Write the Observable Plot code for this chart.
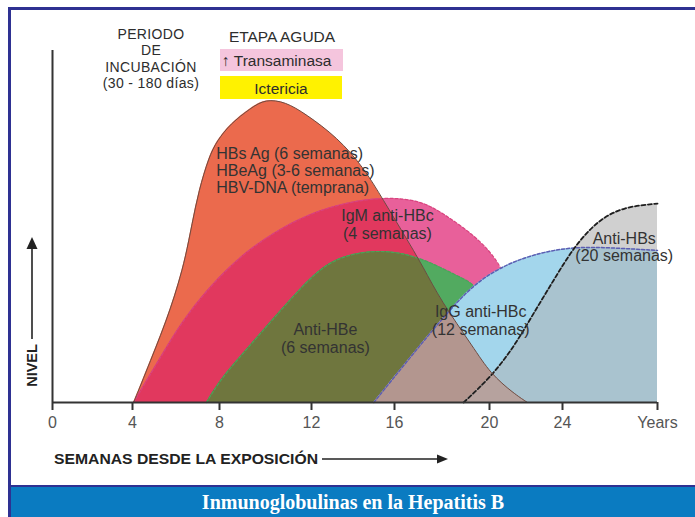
<!DOCTYPE html>
<html>
<head>
<meta charset="utf-8">
<script src="https://cdn.jsdelivr.net/npm/d3@7"></script>
<script src="https://cdn.jsdelivr.net/npm/@observablehq/plot@0.6"></script>
<style>
  body { margin: 0; background: #fff; }
  #wrap { position: relative; width: 695px; height: 517px; overflow: hidden; background: #fff;
          font-family: "Liberation Sans", Arial, sans-serif; }
  #chart { position: absolute; left: 0; top: 0; }
  #deco { position: absolute; left: 0; top: 0; }
  #incub { position: absolute; left: 81px; top: 25.9px; width: 140px; text-align: center;
           font-size: 14px; line-height: 16.5px; letter-spacing: 0.35px; color: #2d2d2d; white-space: nowrap; }
  .bl { position: absolute; background: #2e3192; }
  #footer { position: absolute; left: 11px; top: 485px; width: 684px; height: 30px;
            border-top: 2px solid #2e3192; background: #0a7bc1; color: #fff;
            font-family: "Liberation Serif", "Times New Roman", serif; font-weight: bold;
            font-size: 20px; text-align: center; line-height: 31px; }
</style>
</head>
<body>
<div id="wrap">
  <div id="chart"></div>
  <svg id="deco" width="695" height="485" font-family="Liberation Sans, Arial, sans-serif" fill="#2d2d2d">
    <rect x="220" y="49" width="123" height="22" fill="#f5c5dd"></rect>
    <rect x="220" y="76" width="122" height="23" fill="#fff200"></rect>
    <text x="282" y="41.5" font-size="15.5" text-anchor="middle">ETAPA AGUDA</text>
    <text x="222" y="65.5" font-size="15.5">↑ Transaminasa</text>
    <text x="281" y="93.5" font-size="15.5" text-anchor="middle">Ictericia</text>
    <text transform="translate(37,365.5) rotate(-90)" text-anchor="middle" font-size="14.5" font-weight="bold" fill="#222">NIVEL</text>
    <line x1="32" y1="339" x2="32" y2="246" stroke="#222" stroke-width="1.6"></line>
    <path d="M32,237 L26.5,249 L37.5,249 Z" fill="#222"></path>
    <text x="54" y="463.5" font-size="15" font-weight="bold" fill="#222" textLength="264" lengthAdjust="spacingAndGlyphs">SEMANAS DESDE LA EXPOSICIÓN</text>
    <line x1="322" y1="459" x2="440" y2="459" stroke="#222" stroke-width="1.6"></line>
    <path d="M448,459 L437,454.5 L437,463.5 Z" fill="#222"></path>
  </svg>
  <div id="incub">PERIODO<br>DE<br>INCUBACIÓN<br>(30 - 180 días)</div>
  <div class="bl" style="left:8px;top:7px;width:3px;height:510px"></div>
  <div class="bl" style="left:8px;top:7px;width:687px;height:3px"></div>
  <div id="footer">Inmunoglobulinas en la Hepatitis B</div>
</div>
<script>
// ---- data (week since exposure, relative level 0-100) ----
const weeks = [0, 4, 8, 12, 16, 20, 24, 28];
const tickLabels = ["0", "4", "8", "12", "16", "20", "24", "Years"];

const hbsag = [[4.05,0],[4.37,4.8],[4.83,11.9],[5.29,19.0],[5.75,26.7],[6.11,33.8],[6.44,41.3],[6.74,50.8],[7.05,60.2],[7.51,69.7],[7.89,74.4],[8.48,79.2],[9.35,83.6],[10.0,86.2],[10.87,85.4],[11.74,82.0],[13.25,75.3],[14.51,66.8],[15.47,57.4],[16.38,48.0],[17.22,38.4],[17.94,29.0],[19.33,15.6],[20.05,8.2],[21.32,2.6],[22.08,0]];
const igm = [[4.05,0],[4.6,5.7],[5.29,12.8],[6.07,21.0],[7.13,29.8],[8.26,37.5],[9.35,43.8],[10.65,49.4],[11.96,53.7],[13.64,56.8],[15.57,58.4],[17.09,57.4],[18.06,53.7],[19.49,46.9],[20.6,39.5],[21.26,30.4],[21.7,17.6],[21.92,0]];
const antiHBe = [[7.4,0],[8.04,6.5],[8.91,13.1],[9.78,19.6],[10.65,26.1],[11.52,32.4],[12.34,37.5],[13.16,40.6],[14.12,42.4],[15.18,43.1],[16.25,42.6],[17.39,40.3],[18.78,35.5],[19.33,33.8],[19.83,29.0],[20.27,14.8],[20.55,0]];
const igg = [[15.0,0],[16.55,11.9],[17.94,23.3],[19.33,33.8],[20.99,39.5],[22.79,42.6],[24.46,44.2],[26.02,44.0],[28,43.2]];
const antiHBs = [[18.91,0],[20.05,7.1],[21.32,15.6],[22.41,25.3],[23.51,34.7],[24.46,44.0],[25.47,51.7],[26.57,55.6],[28,56.5]];

const labels = [
  {x: 7.85, y: 65.9, text: "HBs Ag (6 semanas)\nHBeAg (3-6 semanas)\nHBV-DNA (temprana)", anchor: "start"},
  {x: 15.66, y: 50.6, text: "IgM anti-HBc\n(4 semanas)", anchor: "middle"},
  {x: 12.67, y: 18.3, text: "Anti-HBe\n(6 semanas)", anchor: "middle"},
  {x: 19.63, y: 23.3, text: "IgG anti-HBc\n(12 semanas)", anchor: "middle"},
  {x: 26.6, y: 44.2, text: "Anti-HBs\n(20 semanas)", anchor: "middle"}
];

const X = d => d[0], Y = d => d[1];
const C = "basis";
const area = (data, fill) => Plot.areaY(data, {x: X, y: Y, curve: C, fill});
const line = (data, stroke, w, dash) => Plot.lineY(data, {x: X, y: Y, curve: C, stroke, strokeWidth: w, strokeDasharray: dash});

const svg = Plot.plot({
  width: 695,
  height: 485,
  margin: 0,
  style: {background: "transparent", fontFamily: "Liberation Sans, Arial, sans-serif", overflow: "visible"},
  x: {type: "linear", domain: weeks, range: [52, 132, 219, 311, 394, 489, 562, 657], axis: null},
  y: {domain: [0, 100], range: [402, 50], axis: null},
  marks: [
    area(hbsag, "#eb6a4d"),          // 0
    area(igm, "#e8609a"),            // 1
    area(igm, "#e1385e"),            // 2 clip hbs
    line(igm, "#d8447f", 1.2, "3,2"),
    area(antiHBe, "#52aa60"),        // 3
    area(antiHBe, "#6f763e"),        // 4 clip hbs
    line(antiHBe, "#4aa35a", 1.2, "3,2"),
    area(igg, "#a3d6ec"),            // 5
    area(igg, "#b3968f"),            // 6 clip hbs
    area(antiHBs, "#d0d0d0"),        // 7
    area(antiHBs, "#a9c3cf"),        // 8 clip igg
    area(antiHBs, "#b6a29e"),        // 9 clip hbs
    line(igg, "#5c5db2", 1.5, "3,2"),
    line(antiHBs, "#1e1e1e", 1.8, "4,2.5"),
    line(hbsag, "#6e4a40", 1),
    Plot.ruleY([0], {x1: 0, x2: 28, stroke: "#333", strokeWidth: 2}),
    Plot.ruleX([0], {y1: 0, y2: 100, stroke: "#333", strokeWidth: 2}),
    Plot.ruleX(weeks, {x: d => d, y1: 0, y2: 0, insetBottom: -8, stroke: "#333", strokeWidth: 2}),
    Plot.text(weeks, {x: d => d, y: 0, dy: 20, text: (d, i) => tickLabels[i], fontSize: 16, fill: "#555"}),
    Plot.text(labels.filter(l => l.anchor === "start"), {x: "x", y: "y", text: "text", textAnchor: "start", fontSize: 16, fill: "#333", lineHeight: 1.07}),
    Plot.text(labels.filter(l => l.anchor === "middle"), {x: "x", y: "y", text: "text", textAnchor: "middle", fontSize: 16, fill: "#333", lineHeight: 1.1})
  ]
});

// clip overlap layers to the shape of another area, drawn by Plot itself
const areas = svg.querySelectorAll('g[aria-label="area"]');
const ns = "http://www.w3.org/2000/svg";
const defs = document.createElementNS(ns, "defs");
svg.insertBefore(defs, svg.firstChild);
function makeClip(id, g) {
  const cp = document.createElementNS(ns, "clipPath");
  cp.setAttribute("id", id);
  const p = document.createElementNS(ns, "path");
  p.setAttribute("d", g.querySelector("path").getAttribute("d"));
  if (g.getAttribute("transform")) p.setAttribute("transform", g.getAttribute("transform"));
  cp.appendChild(p);
  defs.appendChild(cp);
}
makeClip("clipHBs", areas[0]);
makeClip("clipIgG", areas[5]);
[2, 4, 6, 9].forEach(i => areas[i].setAttribute("clip-path", "url(#clipHBs)"));
areas[8].setAttribute("clip-path", "url(#clipIgG)");

document.getElementById("chart").appendChild(svg);
</script>
</body>
</html>
